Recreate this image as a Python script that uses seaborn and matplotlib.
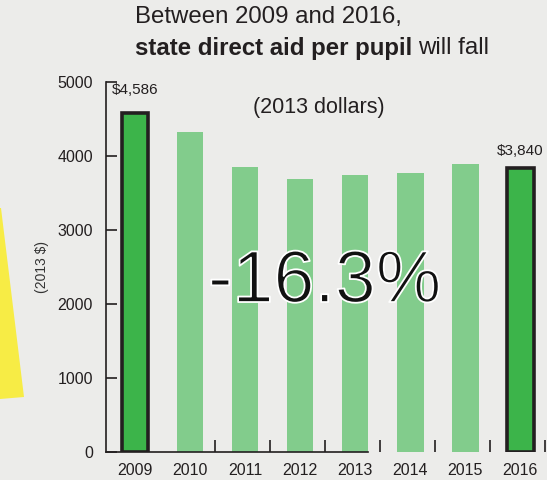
import numpy as np
import pandas as pd
import matplotlib.pyplot as plt
import matplotlib.patheffects as pe
from matplotlib.patches import Polygon
import seaborn as sns

years = ["2009", "2010", "2011", "2012", "2013", "2014", "2015", "2016"]
aid = [4586, 4320, 3850, 3690, 3740, 3770, 3890, 3840]
bar_colors = ["#3cb44a", "#82cc8c", "#82cc8c", "#82cc8c", "#82cc8c", "#82cc8c", "#82cc8c", "#3cb44a"]
y_ticks = [0, 1000, 2000, 3000, 4000, 5000]

bg = "#ececea"
sns.set_style("white")
plt.rcParams["font.family"] = ["Liberation Sans", "DejaVu Sans"]

df = pd.DataFrame({"year": years, "aid": aid})

fig = plt.figure(figsize=(5.47, 4.80), dpi=100, facecolor=bg)
ax = fig.add_axes([106 / 547, 28 / 480, 441 / 547, 370 / 480])
ax.set_facecolor(bg)

# decorative yellow wedge on the left
wedge = Polygon([[0, 480 - 208], [1, 480 - 208], [24, 480 - 397], [0, 480 - 399]],
                closed=True, transform=None, facecolor="#f7ec45", edgecolor="none", zorder=0)
fig.patches.append(wedge)

sns.barplot(data=df, x="year", y="aid", hue="year", palette=bar_colors,
            legend=False, width=0.49, saturation=1, ax=ax)

for i, p in enumerate(ax.patches):
    if i in (0, len(years) - 1):
        p.set_edgecolor("#231f20")
        p.set_linewidth(2.6)
    else:
        p.set_edgecolor("none")
        p.set_linewidth(0)

ax.set_ylim(0, 5000)
ax.set_xlim(-0.527, 7.49)
ax.set_yticks(y_ticks)
ax.set_xlabel("")
ax.set_ylabel("(2013 $)", fontsize=10, color="#333333", labelpad=6)

for s in ["top", "right"]:
    ax.spines[s].set_visible(False)
ax.spines["left"].set_color("#231f20")
ax.spines["bottom"].set_color("#231f20")
ax.spines["left"].set_linewidth(1.2)
ax.spines["bottom"].set_linewidth(1.2)
ax.spines["bottom"].set_bounds(-0.527, 4.24)

ax.tick_params(axis="y", left=True, direction="in", length=8, width=1.2, color="#231f20",
               labelsize=11.5, labelcolor="#231f20", pad=9.5)
ax.tick_params(axis="x", which="major", bottom=False, length=0, labelsize=11.5,
               labelcolor="#231f20", pad=8)
ax.set_xticks([i + 0.45 for i in range(1, 8)], minor=True)
ax.tick_params(axis="x", which="minor", bottom=True, direction="in", length=9, width=1.2,
               color="#231f20")

ax.text(0, aid[0] + 210, "$4,586", ha="center", va="bottom", fontsize=11, color="#231f20")
ax.text(7, aid[7] + 130, "$3,840", ha="center", va="bottom", fontsize=11, color="#231f20")
ax.text(3.35, 4650, "(2013 dollars)", ha="center", va="center", fontsize=15.5, color="#231f20")
big = ax.text(3.45, 2290, "-16.3%", ha="center", va="center", fontsize=53,
              color="#111111", zorder=5)
# thin white outline drawn over the glyphs, like the original lettering
big.set_path_effects([pe.Normal(), pe.Stroke(linewidth=1.3, foreground="white")])

fig.text(135 / 547, 1 - 17 / 480, "Between 2009 and 2016,", ha="left", va="center",
         fontsize=17.3, color="#231f20")
t1 = fig.text(135 / 547, 1 - 48 / 480, "state direct aid per pupil", ha="left", va="center",
              fontsize=17.3, fontweight="bold", color="#231f20")
fig.canvas.draw()
bb = t1.get_window_extent()
fig.text(bb.x1 / 547 + 6 / 547, 1 - 48 / 480, "will fall", ha="left", va="center",
         fontsize=17.3, color="#231f20")

fig.savefig("out.png", dpi=100, facecolor=bg)
